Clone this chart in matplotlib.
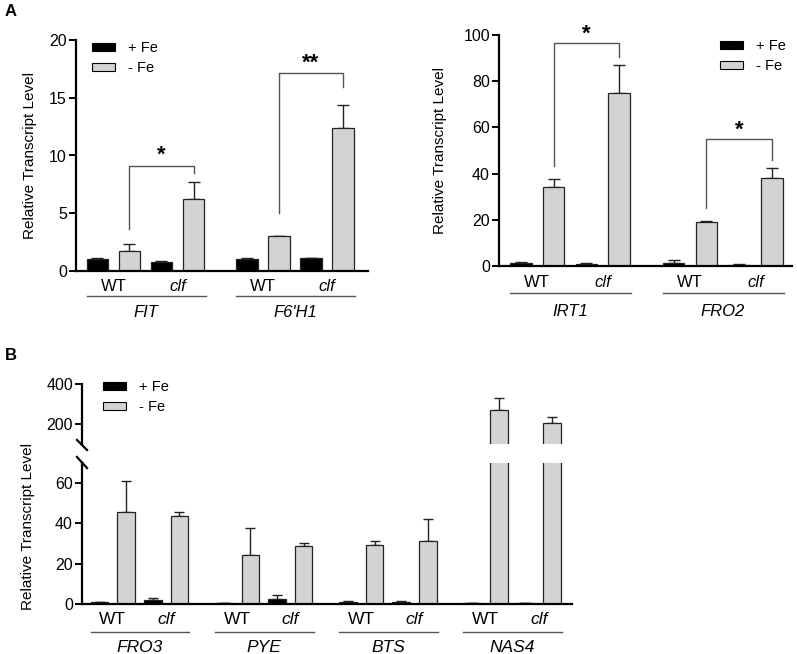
import matplotlib
matplotlib.use("Agg")
import numpy as np
import matplotlib.pyplot as plt
from matplotlib.lines import Line2D
from matplotlib.patches import Patch
from matplotlib.transforms import ScaledTranslation

plt.rcParams['font.family'] = ['Liberation Sans', 'DejaVu Sans']

# ---------- data (per gene: WT +Fe, WT -Fe, clf +Fe, clf -Fe) ----------
genotypes = ['WT', 'clf']
conditions = ['+ Fe', '- Fe']

a1_genes = ['FIT', "F6'H1"]
a1_vals = [[1.0, 1.75, 0.8, 6.25], [1.0, 3.0, 1.1, 12.4]]
a1_errs = [[0.15, 0.6, 0.06, 1.45], [0.1, 0.0, 0.06, 2.0]]
# (left leg start, bracket top, right leg end, label)
a1_brackets = [(3.6, 9.1, 8.5, '*'), (5.0, 17.1, 15.9, '**')]

a2_genes = ['IRT1', 'FRO2']
a2_vals = [[1.2, 34.0, 1.0, 75.0], [1.5, 19.0, 0.5, 38.0]]
a2_errs = [[0.5, 3.8, 0.4, 12.0], [1.2, 0.6, 0.3, 4.3]]
a2_brackets = [(43.5, 96.5, 90.5, '*'), (25.0, 55.0, 46.0, '*')]

b_genes = ['FRO3', 'PYE', 'BTS', 'NAS4']
b_vals = [[0.8, 45.5, 1.8, 43.5], [0.5, 24.5, 2.5, 29.0],
          [0.9, 29.5, 1.2, 31.2], [0.5, 270.0, 0.3, 203.0]]
b_errs = [[0.3, 15.5, 1.0, 2.2], [0.2, 13.3, 2.0, 1.4],
          [0.5, 2.0, 0.5, 11.0], [0.2, 62.0, 0.1, 33.0]]

W, H = 797, 654
GRAY = '#d3d3d3'
GSTEP = 4.67
BW = 0.66

fig = plt.figure(figsize=(W / 100, H / 100), dpi=100)


def add_ax(left, top, right, bottom):
    return fig.add_axes([left / W, 1 - bottom / H, (right - left) / W, (bottom - top) / H])


def style(ax, bottom=True):
    for s in ['top', 'right']:
        ax.spines[s].set_visible(False)
    ax.spines['left'].set_linewidth(1.6)
    ax.spines['bottom'].set_linewidth(1.6)
    if not bottom:
        ax.spines['bottom'].set_visible(False)
    ax.tick_params(axis='y', direction='out', length=5, width=1.4, labelsize=11.5, pad=1.5)
    ax.tick_params(axis='x', bottom=False, labelbottom=False)


def draw_bars(ax, vals, errs, capsize):
    for g, (v, e) in enumerate(zip(vals, errs)):
        x = g * GSTEP + np.arange(4)
        cols = ['black', GRAY, 'black', GRAY]
        ax.bar(x, v, BW, color=cols, edgecolor='#222222', linewidth=0.9, zorder=2)
        ax.errorbar(x, v, yerr=[np.zeros(4), e], fmt='none', ecolor='#222222',
                    elinewidth=1.0, capsize=capsize, capthick=1.0, zorder=1)


def below(ax, dy):
    return ax.get_xaxis_transform() + ScaledTranslation(0, -dy / 100, fig.dpi_scale_trans)


def group_labels(ax, genes, d_wt, d_line, d_gene, fs):
    for g, name in enumerate(genes):
        x = g * GSTEP + np.arange(4)
        ax.text((x[0] + x[1]) / 2, 0, genotypes[0], transform=below(ax, d_wt),
                ha='center', va='center', fontsize=fs)
        ax.text((x[2] + x[3]) / 2, 0, genotypes[1], transform=below(ax, d_wt),
                ha='center', va='center', fontsize=fs, style='italic')
        ax.plot([x[0] - BW / 2, x[3] + BW / 2 + 0.05], [0, 0], color='#555555', lw=1.0,
                transform=below(ax, d_line), clip_on=False)
        ax.text((x[0] + x[3]) / 2, 0, name, transform=below(ax, d_gene),
                ha='center', va='center', fontsize=fs, style='italic')


def brackets(ax, br, star_dy):
    for g, (y0, ytop, y1, lab) in enumerate(br):
        xl = g * GSTEP + 1
        xr = g * GSTEP + 3
        ax.plot([xl, xl, xr, xr], [y0, ytop, ytop, y1], color='#555555', lw=1.0, zorder=3)
        ax.text((xl + xr) / 2, ytop + star_dy, lab, ha='center', va='center',
                fontsize=16, fontweight='bold')


def legend(x, y):
    handles = [Patch(facecolor='black', edgecolor='black', linewidth=0.8),
               Patch(facecolor=GRAY, edgecolor='black', linewidth=0.8)]
    fig.legend(handles, conditions, loc='upper left', bbox_to_anchor=(x / W, 1 - y / H),
               frameon=False, fontsize=10.5, handlelength=1.6, handleheight=0.5,
               borderpad=0, labelspacing=0.4, handletextpad=0.9, borderaxespad=0)


# ---------- A left ----------
ax1 = add_ax(76, 40, 368, 271)
draw_bars(ax1, a1_vals, a1_errs, 4)
brackets(ax1, a1_brackets, 0.9)
ax1.set_ylim(0, 20)
ax1.set_yticks([0, 5, 10, 15, 20])
ax1.set_xlim(-0.67, 8.45)
style(ax1)
ax1.set_ylabel('Relative Transcript Level', fontsize=11)
ax1.yaxis.set_label_coords(-0.134, 0.5)
group_labels(ax1, a1_genes, 16, 25, 42, 12)
legend(92, 41)

# ---------- A right ----------
ax2 = add_ax(499, 35, 792, 266)
draw_bars(ax2, a2_vals, a2_errs, 4)
brackets(ax2, a2_brackets, 3.8)
ax2.set_ylim(0, 100)
ax2.set_yticks([0, 20, 40, 60, 80, 100])
ax2.set_xlim(-0.67, 8.29)
style(ax2)
ax2.set_ylabel('Relative Transcript Level', fontsize=11)
ax2.yaxis.set_label_coords(-0.177, 0.5)
group_labels(ax2, a2_genes, 17, 27, 46, 12)
legend(720, 39)

# ---------- B (broken y axis) ----------
axb_top = add_ax(82, 384, 572, 444)
axb = add_ax(82, 463, 572, 604)
for a in (axb_top, axb):
    draw_bars(a, b_vals, b_errs, 3.4)
    a.set_xlim(-0.66, 17.76)
axb_top.set_ylim(100, 400)
axb_top.set_yticks([200, 400])
axb.set_ylim(0, 70)
axb.set_yticks([0, 20, 40, 60])
style(axb_top, bottom=False)
style(axb)
axb.set_ylabel('Relative Transcript Level', fontsize=11)
axb.yaxis.set_label_coords(-0.096, 0.55)
group_labels(axb, b_genes, 15, 28, 43, 12.5)
legend(103, 380)

# break marks on the y axis
for (x0, y0, x1, y1) in [(77, 440, 87, 450), (77, 457, 87, 468)]:
    fig.add_artist(Line2D([x0 / W, x1 / W], [1 - y0 / H, 1 - y1 / H], color='black', lw=1.6))

fig.text(5 / W, 1 - 12 / H, 'A', fontsize=12, fontweight='bold', va='center')
fig.text(5 / W, 1 - 355 / H, 'B', fontsize=12, fontweight='bold', va='center')

fig.savefig('out.png', dpi=100)
